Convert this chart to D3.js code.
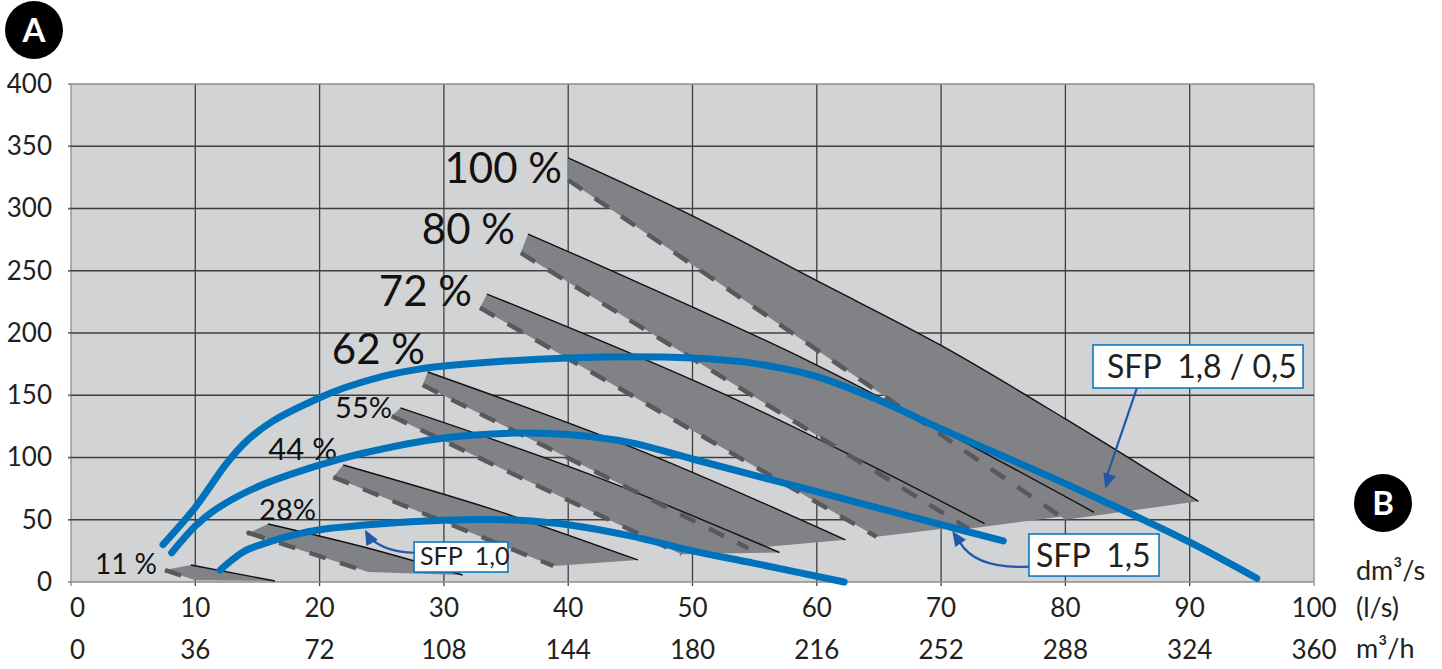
<!DOCTYPE html>
<html><head><meta charset="utf-8">
<script src="https://cdn.jsdelivr.net/npm/d3@7"></script>
<style>
html,body{margin:0;padding:0;background:#fff;}
svg{display:block;font-family:Lato,"Open Sans",sans-serif;}
text{white-space:pre;}
</style></head><body>
<svg id="chart" width="1442" height="669"></svg>
<script>
// ---------- DATA ----------
const yTicks = [0,50,100,150,200,250,300,350,400];
const xTicksLs = [0,10,20,30,40,50,60,70,80,90,100];
const xTicksM3h = ["0","36","72","108","144","180","216","252","288","324","360"];

const bandLabels = ["11 %","28%","44 %","55%","62 %","72 %","80 %","100 %"];
// upper (solid) edge of each band, [flow l/s, pressure Pa]
const bandTop = [
  [[9.65,13.7],[16.4,0.8]],
  [[15.85,46.6],[23.7,27.7],[31.5,5.6]],
  [[21.9,94],[33.75,58.9],[45.6,17.7]],
  [[26.5,139.8],[41.75,86.4],[57,23.7]],
  [[28.7,168.7],[45.5,106.7],[62.3,33.9]],
  [[33.47,231.3],[53.5,146.5],[73.5,46.8]],
  [[36.77,279.5],[59.5,176.7],[82.3,56]],
  [[40,340.6],[50,294],[60,242],[70,190],[80,131],[90.7,64.8]]
];
// lower (dashed) edge of each band: start, end
const bandBottom = [
  [[7.56,9.6],[10.0,1.5]],
  [[14.3,39.4],[23.9,8]],
  [[21.1,84.3],[38.8,12.9]],
  [[25.8,133.3],[49.1,22.3]],
  [[28.3,158.2],[54.5,27]],
  [[32.9,220.3],[64.8,36.3]],
  [[36.18,264.3],[72.2,42.8]],
  [[40,322.9],[80,50]]
];

const sfpNames = ["SFP  1,0","SFP  1,5","SFP  1,8 / 0,5"];
const sfp10 = [[12,9.6],[13,18],[14,25],[16,32.4],[18,38],[20,42],[25,46.8],[30,49.5],[33,50.2],[36,49.6],[40,46],[45,37],[50,25],[55,15],[62.2,0]];
const sfp15 = [[8.1,23.5],[10,45],[11.7,58.7],[15.2,77.3],[20,94],[23.3,103],[30,115.7],[36,119.7],[40,118.5],[45,112],[50,98.8],[60,72.5],[70,46],[75,33]];
const sfp18 = [[7.4,30],[10,60],[12.5,95],[14.1,113],[16.3,129.6],[20,148],[22,156],[25,165],[28,171],[30,173.5],[35,177.5],[40,180],[45,181],[50,180],[54,177],[57,172],[60,165],[65,146],[70,123],[75,101],[80,79],[85,56],[90,32],[95.4,3]];

// ---------- LAYOUT ----------
const svg = d3.select("#chart");
const x = d3.scaleLinear().domain([0,100]).range([71,1314]);
const y = d3.scaleLinear().domain([0,400]).range([582,84]);

const FILL_BG = "#d1d3d4", BAND = "#808285", DASH = "#58595b", BLUE = "#0072bc", ARROW = "#2159a8";

// plot background
svg.append("rect").attr("x",x(0)).attr("y",y(400)).attr("width",x(100)-x(0)).attr("height",y(0)-y(400)).attr("fill",FILL_BG);

// grid
const grid = svg.append("g");
grid.selectAll("line.v").data(xTicksLs).join("line")
  .attr("x1",d=>x(d)).attr("x2",d=>x(d)).attr("y1",y(400)).attr("y2",y(0)+4)
  .attr("stroke",d=>(d===0||d===100)?"#8a8c8e":"#3f3f41").attr("stroke-width",1.3);
grid.selectAll("line.h").data(yTicks).join("line")
  .attr("x1",x(0)-3).attr("x2",x(100)).attr("y1",d=>y(d)).attr("y2",d=>y(d))
  .attr("stroke",d=>(d===0||d===400)?"#8a8c8e":"#3f3f41").attr("stroke-width",1.3);

// y axis labels
const yAxis = d3.axisLeft(y).tickValues(yTicks).tickSize(3).tickPadding(16).tickFormat(d3.format("d"));
const ga = svg.append("g").attr("transform",`translate(${x(0)},0)`).call(yAxis);
ga.select(".domain").remove();
ga.selectAll(".tick line").attr("stroke","#8a8c8e");
ga.selectAll("text").attr("font-size",26).attr("fill","#231f20").attr("font-family","Lato");

// x axis labels, two rows
const xr = svg.append("g");
xr.selectAll("text.ls").data(xTicksLs).join("text")
  .attr("x",d=>d===0?x(d)-1:x(d)).attr("y",617)
  .attr("text-anchor",d=>d===0?"start":"middle")
  .attr("font-size",26).attr("fill","#231f20").text(d=>d);
xr.selectAll("text.m3").data(xTicksM3h).join("text")
  .attr("x",(d,i)=>i===0?x(xTicksLs[i])-1:x(xTicksLs[i])).attr("y",659)
  .attr("text-anchor",(d,i)=>i===0?"start":"middle")
  .attr("font-size",26).attr("fill","#231f20").text(d=>d);
// unit labels
svg.append("text").attr("x",1356).attr("y",580).attr("font-size",27).attr("fill","#231f20").text("dm³/s");
svg.append("text").attr("x",1356).attr("y",617).attr("font-size",27).attr("fill","#231f20").text("(l/s)");
svg.append("text").attr("x",1356).attr("y",658).attr("font-size",27).attr("fill","#231f20").text("m³/h");

// ---------- BANDS ----------
const topLine = d3.line().x(d=>x(d[0])).y(d=>y(d[1])).curve(d3.curveCatmullRom.alpha(0.5));
const bands = svg.append("g");
bandTop.forEach((tp,i)=>{
  const b = bandBottom[i];
  const p = topLine(tp) + `L${x(b[1][0])},${y(b[1][1])}L${x(b[0][0])},${y(b[0][1])}Z`;
  bands.append("path").attr("d",p).attr("fill",BAND);
});
bandTop.forEach((tp,i)=>{
  const b = bandBottom[i];
  bands.append("path").attr("d",d3.line().x(d=>x(d[0])).y(d=>y(d[1]))(b))
    .attr("fill","none").attr("stroke",DASH).attr("stroke-width",4.5).attr("stroke-dasharray","17 15");
  bands.append("path").attr("d",topLine(tp)).attr("fill","none").attr("stroke","#111").attr("stroke-width",1.4);
});
// small dot at 28% start
bands.append("circle").attr("cx",x(bandBottom[1][0][0])).attr("cy",y(bandBottom[1][0][1])).attr("r",2.5).attr("fill","#555");

// band labels
const labelPos = [[157,574,28],[316,520,29],[337,460,31],[392,418,29],[425,364,42],[472,306,42],[515,244,42],[562,183,42]];
bandLabels.forEach((t,i)=>{
  svg.append("text").attr("x",labelPos[i][0]).attr("y",labelPos[i][1]).attr("text-anchor","end")
    .attr("font-size",labelPos[i][2]).attr("fill","#111").text(t);
});

// ---------- SFP CURVES ----------
const curve = d3.line().x(d=>x(d[0])).y(d=>y(d[1])).curve(d3.curveCatmullRom.alpha(0.5));
[sfp10,sfp15,sfp18].forEach(s=>{
  svg.append("path").attr("d",curve(s)).attr("fill","none").attr("stroke",BLUE)
    .attr("stroke-width",7).attr("stroke-linecap","round");
});

// ---------- ANNOTATIONS ----------
function arrowHead(g,tx,ty,fx,fy){
  const a = Math.atan2(ty-fy,tx-fx), L=15, W=6.5;
  const bx = tx-L*Math.cos(a), by = ty-L*Math.sin(a);
  const px = -Math.sin(a)*W, py = Math.cos(a)*W;
  g.append("path").attr("d",`M${tx},${ty}L${bx+px},${by+py}L${bx-px},${by-py}Z`).attr("fill",ARROW);
}
const ann = svg.append("g");
// SFP 1,0
ann.append("path").attr("d",`M${x(27.6)},${y(23.5)}Q${x(25.3)},${y(24)} ${x(24.1)},${y(35)}`)
  .attr("fill","none").attr("stroke",ARROW).attr("stroke-width",2.2);
arrowHead(ann,x(23.65),y(42),x(24.3),y(30));
// SFP 1,5
ann.append("path").attr("d",`M${x(77.1)},${y(12.4)}Q${x(72.8)},${y(10)} ${x(71.5)},${y(32)}`)
  .attr("fill","none").attr("stroke",ARROW).attr("stroke-width",2.2);
arrowHead(ann,x(70.9),y(41),x(71.9),y(26));
// SFP 1,8 / 0,5
ann.append("path").attr("d",`M${x(85.75)},${y(155.8)}L${x(83.3)},${y(84)}`)
  .attr("fill","none").attr("stroke",ARROW).attr("stroke-width",2.2);
arrowHead(ann,x(83.2),y(75),x(85.75),y(155.8));

const boxes = [
  {x0:27.6,x1:35.15,y0:32.1,y1:8,fs:25,tx:420,ty:565},
  {x0:77.07,x1:87.53,y0:38.55,y1:4.8,fs:32,tx:1036,ty:567},
  {x0:82.22,x1:99.12,y0:190.4,y1:155.8,fs:32,tx:1107,ty:378}
];
boxes.forEach((b,i)=>{
  ann.append("rect").attr("x",x(b.x0)).attr("y",y(b.y0)).attr("width",x(b.x1)-x(b.x0)).attr("height",y(b.y1)-y(b.y0))
    .attr("fill","#fff").attr("stroke",BLUE).attr("stroke-width",1.5);
  ann.append("text").attr("x",b.tx).attr("y",b.ty).attr("font-size",b.fs).attr("fill","#231f20").text(sfpNames[i]);
});

// ---------- A / B markers ----------
[["A",34,30],["B",1383,503]].forEach(([t,cx,cy])=>{
  svg.append("circle").attr("cx",cx).attr("cy",cy).attr("r",29).attr("fill","#000");
  svg.append("text").attr("x",cx).attr("y",cy+11.5).attr("text-anchor","middle").attr("font-size",33)
    .attr("font-weight","bold").attr("fill","#fff").text(t);
});
</script>
</body></html>
